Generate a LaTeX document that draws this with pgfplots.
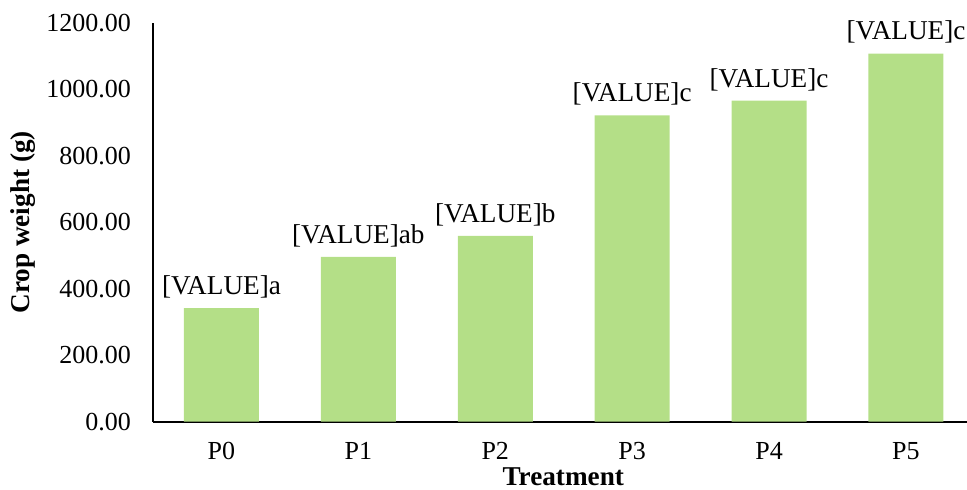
\documentclass[border=0pt]{standalone}
\usepackage{fontspec}
\setmainfont{Liberation Serif}
\usepackage{pgfplots}
\usepackage{pgfplotstable}
\pgfplotsset{compat=1.18}
\definecolor{barcolor}{RGB}{180,223,135}
\pgfplotstableread{
x y lab
0 342 a
1 496 ab
2 559 b
3 922 c
4 966 c
5 1108 c
}\datatable
\begin{document}
\begin{tikzpicture}[font=\fontsize{13}{15.5}\selectfont]
\path[use as bounding box] (-76.5pt,-34.15pt) rectangle (407pt,210.85pt);
\begin{axis}[
  scale only axis,
  width=407pt, height=199.35pt,
  xmin=-0.5, xmax=5.446,
  ymin=0, ymax=1200,
  axis x line*=bottom, axis y line*=left,
  x axis line style={-, black, line width=1.1pt},
  y axis line style={-, black, line width=0.8pt},
  major tick length=0pt,
  xtick={0,1,2,3,4,5},
  xticklabels={P0,P1,P2,P3,P4,P5},
  ytick={0,200,400,600,800,1000,1200},
  /pgf/number format/fixed,
  /pgf/number format/fixed zerofill,
  /pgf/number format/precision=2,
  /pgf/number format/1000 sep={},
  /pgf/number format/assume math mode=true,
  yticklabel style={xshift=-7.5pt},
  xticklabel style={yshift=-6.8pt},
  scaled y ticks=false,
  xlabel={\textbf{Treatment}},
  ylabel={\textbf{Crop weight (g)}},
  xlabel style={at={(axis description cs:0.504,-0.137)}, anchor=center, inner sep=0pt, font=\fontsize{13.6}{16}\selectfont},
  ylabel style={at={(axis description cs:-0.1597,0.5)}, anchor=center, font=\fontsize{13.6}{16}\selectfont},
  clip=false,
]
\addplot[ybar, fill=barcolor, draw=none, bar width=37.5pt,
  point meta=explicit symbolic,
  nodes near coords={{[}VALUE{]}\pgfplotspointmeta},
  every node near coord/.append style={font=\fontsize{13.6}{16}\selectfont, yshift=1.5pt, black}]
  table[x=x, y=y, meta=lab] {\datatable};
\end{axis}
\end{tikzpicture}
\end{document}
